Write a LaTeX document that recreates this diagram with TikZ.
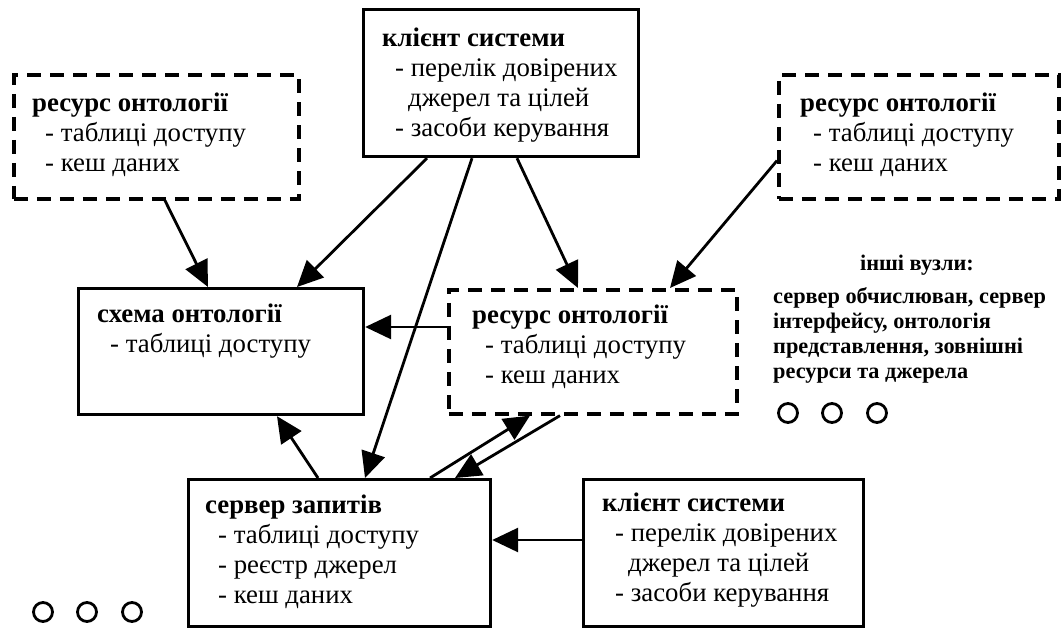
\documentclass[tikz,border=0pt]{standalone}
\usepackage{fontspec}
\setmainfont{Liberation Serif}
\usetikzlibrary{arrows.meta}
\begin{document}
\begin{tikzpicture}[x=1pt,y=-1pt,
  solidbox/.style={draw, line width=3.2pt, inner sep=0pt, anchor=north west},
  dashbox/.style={draw, line width=3.6pt, dash pattern=on 14pt off 9pt, inner sep=0pt, anchor=north west},
  arr/.style={line width=2.8pt, -{Triangle[length=26pt,width=24pt]}},
  txt/.style={anchor=base west, inner sep=0pt, font=\fontsize{26.8}{30}\selectfont},
  side/.style={anchor=base west, inner sep=0pt, font=\fontsize{22.3}{25}\selectfont\bfseries},
  dot/.style={circle, draw, line width=2.8pt, minimum size=19pt, inner sep=0pt}
]
\useasboundingbox (0,0) rectangle (1062,632);
\newcommand{\ind}{\hspace*{13pt}}
\newcommand{\indd}{\hspace*{26pt}}

% boxes
\node[solidbox, minimum width=275pt, minimum height=147pt] (c1) at (362,8) {};
\node[dashbox, minimum width=285pt, minimum height=124pt] (tl) at (12,73) {};
\node[dashbox, minimum width=280pt, minimum height=124pt] (tr) at (777,73) {};
\node[solidbox, minimum width=285pt, minimum height=126pt] (sch) at (77,287) {};
\node[dashbox, minimum width=288pt, minimum height=124pt] (rm) at (447,288) {};
\node[solidbox, minimum width=302pt, minimum height=147pt] (srv) at (187,478) {};
\node[solidbox, minimum width=280pt, minimum height=147pt] (c2) at (582,478) {};

% texts
\node[txt] (c1t) at (382,46) {\begin{tabular}[t]{@{}l@{}}\textbf{клієнт системи}\\ \ind- перелік довірених\\ \indd джерел та цілей\\ \ind- засоби керування\end{tabular}};
\node[txt] (tlt) at (32,111) {\begin{tabular}[t]{@{}l@{}}\textbf{ресурс онтології}\\ \ind- таблиці доступу\\ \ind- кеш даних\end{tabular}};
\node[txt] (trt) at (800,111) {\begin{tabular}[t]{@{}l@{}}\textbf{ресурс онтології}\\ \ind- таблиці доступу\\ \ind- кеш даних\end{tabular}};
\node[txt] (scht) at (97,322) {\begin{tabular}[t]{@{}l@{}}\textbf{схема онтології}\\ \ind- таблиці доступу\end{tabular}};
\node[txt] (rmt) at (472,323) {\begin{tabular}[t]{@{}l@{}}\textbf{ресурс онтології}\\ \ind- таблиці доступу\\ \ind- кеш даних\end{tabular}};
\node[txt] (srvt) at (205,513) {\begin{tabular}[t]{@{}l@{}}\textbf{сервер запитів}\\ \ind- таблиці доступу\\ \ind- реєстр джерел\\ \ind- кеш даних\end{tabular}};
\node[txt] (c2t) at (602,511) {\begin{tabular}[t]{@{}l@{}}\textbf{клієнт системи}\\ \ind- перелік довірених\\ \indd джерел та цілей\\ \ind- засоби керування\end{tabular}};

% side note
\node[side, anchor=base] (oth) at (917,270) {інші вузли:};
\node[side] (otht) at (773,303) {\begin{tabular}[t]{@{}l@{}}сервер обчислюван, сервер\\ інтерфейсу, онтологія\\ представлення, зовнішні\\ ресурси та джерела\end{tabular}};

% dots
\node[dot] (d1) at (788,413) {};
\node[dot] (d2) at (832,413) {};
\node[dot] (d3) at (877,413) {};
\node[dot] (d4) at (43,612) {};
\node[dot] (d5) at (87,612) {};
\node[dot] (d6) at (132,612) {};

% arrows
\draw[arr] ([xshift=153pt]tl.south west) -- ([xshift=131pt]sch.north west);
\draw[arr] ([xshift=65pt]c1.south west) -- ([xshift=220pt]sch.north west);
\draw[arr] ([xshift=110pt]c1.south west) -- ([xshift=178pt]srv.north west);
\draw[arr] ([xshift=155pt]c1.south west) -- ([xshift=131pt]rm.north west);
\draw[arr] ([yshift=40pt]tr.south west) -- ([xshift=223pt]rm.north west);
\draw[arr] ([yshift=-39pt]rm.north west) -- ([yshift=-40pt]sch.north east);
\draw[arr] ([xshift=131pt]srv.north west) -- ([xshift=200pt]sch.south west);
\draw[arr] ([xshift=243pt]srv.north west) -- ([xshift=83pt]rm.south west);
\draw[arr] ([xshift=113pt]rm.south west) -- ([xshift=268pt]srv.north west);
\draw[arr] ([yshift=-62pt]c2.north west) -- ([yshift=-62pt]srv.north east);
\end{tikzpicture}
\end{document}
